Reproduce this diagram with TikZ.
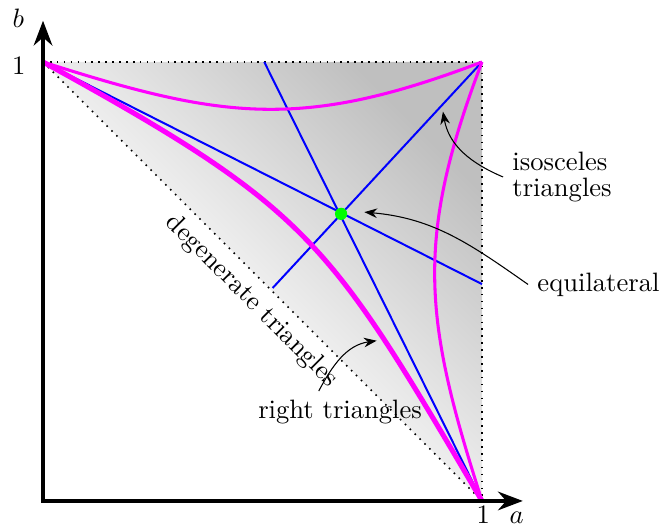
\documentclass[tikz,border=0pt]{standalone}
\usetikzlibrary{arrows.meta}
\definecolor{rtpink}{RGB}{255,0,255}
\definecolor{eqgreen}{RGB}{0,255,0}
\definecolor{isoblue}{RGB}{0,0,255}
\pgfdeclarehorizontalshading{wedgeshade}{100bp}{color(0bp)=(white); color(25bp)=(white); color(50bp)=(black!7); color(75bp)=(black!25); color(100bp)=(black!25)}
\tikzset{
  isoline/.style={isoblue, line width=0.75pt},
  rightcurve/.style={rtpink, line width=1.15pt},
  label arrow/.style={-{Stealth}, thin},
}
\begin{document}
\begin{tikzpicture}[x=5.8cm, y=5.8cm]
  \useasboundingbox (-0.098,-0.0706) rectangle (1.4055,1.1412);
  \shade[shading=wedgeshade, shading angle=45] (0,1) -- (1,1) -- (1,0) -- cycle;
  \draw[dotted, semithick] (0,1) -- (1,1) -- (1,0);
  \draw[dotted, semithick] (0,1) -- (1,0) node[sloped, below, pos=0.51] (deglab) {degenerate triangles};
  % isosceles
  \draw[isoline] (0,1) -- (1,0.494);
  \draw[isoline] (1,0) -- (0.504,1);
  \draw[isoline] (1,1) -- (0.523,0.485);
  % right angled
  \draw[rightcurve] (0,1) .. controls (0.41,0.869) and (0.59,0.844) .. (1,1);
  \draw[rightcurve] (1,1) .. controls (0.844,0.59) and (0.869,0.41) .. (1,0);
  \draw[rightcurve, line width=1.9pt] (0,1) .. controls (0.611,0.664) and (0.649,0.597) .. (1,0);
  \coordinate (eqpt) at (0.679,0.654);
  \fill[eqgreen] (eqpt) circle (2.3pt);
  % axes
  \draw[{Stealth}-{Stealth}, line width=1.4pt] (0,1.094) -- (0,0) -- (1.093,0);
  \node (blab) at (-0.056,1.1) {$b$};
  \node (bone) at (-0.055,0.992) {$1$};
  \node[anchor=base] (aone) at (1.003,-0.051) {$1$};
  \node[anchor=base] (alab) at (1.079,-0.051) {$a$};
  % labels
  \node[anchor=west, align=left] (isolab) at (1.048,0.738) {isosceles\\[-2pt]triangles};
  \node[anchor=base west] (equilab) at (1.105,0.478) {equilateral};
  \node[anchor=base west] (rightlab) at (0.469,0.187) {right triangles};
  \coordinate (isotip) at (0.911,0.887);
  \coordinate (equitip) at (0.732,0.658);
  \coordinate (righttip) at (0.760,0.365);
  \draw[label arrow] (isolab.west) to[out=157, in=-80] (isotip);
  \draw[label arrow] (equilab.west) to[out=145, in=-5] (equitip);
  \draw[label arrow] (rightlab.135) to[out=62, in=188] (righttip);
\end{tikzpicture}
\end{document}
